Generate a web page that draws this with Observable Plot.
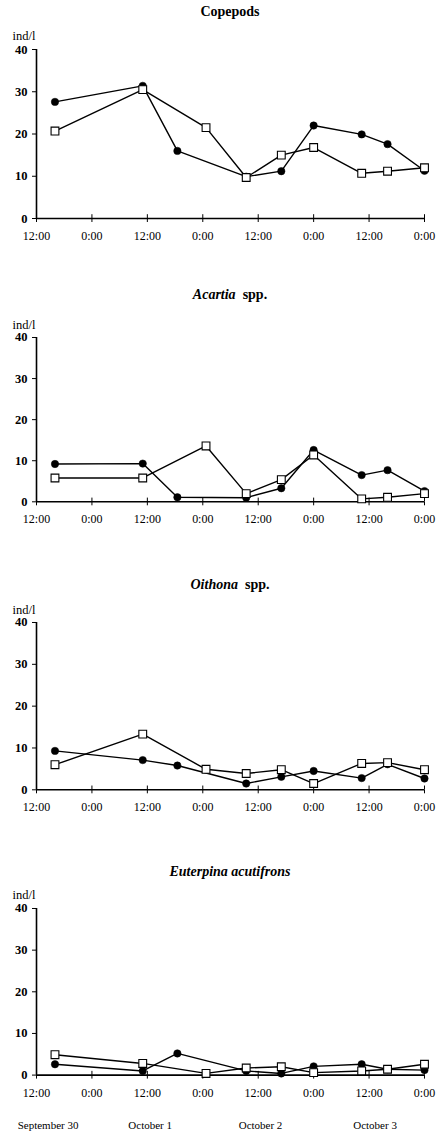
<!DOCTYPE html>
<html><head><meta charset="utf-8">
<script src="https://cdn.jsdelivr.net/npm/d3@7"></script>
<script src="https://cdn.jsdelivr.net/npm/@observablehq/plot@0.6"></script>
<style>
body{margin:0;background:#fff;}
#c{position:relative;width:437px;height:1138px;overflow:hidden;font-family:"Liberation Serif","Times New Roman",serif;color:#000;}
.t{position:absolute;left:23px;width:414px;text-align:center;font-weight:bold;font-size:14px;line-height:14px;white-space:pre;}
#c svg{position:absolute;left:0;overflow:visible;}
</style></head><body><div id="c"></div>
<script>
// sampling times, hours after September 30 12:00
const timesFilled = [4, 23, 30.5, 45.4, 53, 60, 70.4, 76, 84];
const timesOpen   = [4, 23, 36.7, 45.4, 53, 60, 70.4, 76, 84];

const copepodsFilled  = [27.6, 31.4, 16.0, 9.9, 11.2, 22.0, 19.9, 17.6, 11.3];
const copepodsOpen    = [20.7, 30.5, 21.5, 9.7, 15.0, 16.8, 10.7, 11.2, 12.0];
const acartiaFilled   = [9.2, 9.3, 1.1, 1.0, 3.3, 12.6, 6.5, 7.7, 2.6];
const acartiaOpen     = [5.8, 5.8, 13.6, 2.0, 5.4, 11.4, 0.7, 1.1, 2.0];
const oithonaFilled   = [9.3, 7.1, 5.8, 1.5, 3.1, 4.5, 2.8, 6.1, 2.7];
const oithonaOpen     = [6.0, 13.3, 4.9, 3.9, 4.8, 1.5, 6.3, 6.5, 4.8];
const euterpinaFilled = [2.6, 1.0, 5.2, 1.0, 0.4, 2.1, 2.6, 1.4, 1.2];
const euterpinaOpen   = [4.9, 2.8, 0.4, 1.7, 2.0, 0.6, 1.0, 1.4, 2.6];

const titleItalic = ["", "Acartia", "Oithona", "Euterpina acutifrons"];
const titleRoman  = ["Copepods", "  spp.", "  spp.", ""];
const unitLabel = "ind/l";

const xTickHours  = [0, 12, 24, 36, 48, 60, 72, 84];
const xTickLabels = ["12:00", "0:00", "12:00", "0:00", "12:00", "0:00", "12:00", "0:00"];
const yTicks = [0, 10, 20, 30, 40];

const dayLabels = ["September 30", "October 1", "October 2", "October 3"];
const dayLabelHours = [2.5, 24.6, 48.5, 73.3];

const series = [
  [copepodsFilled, copepodsOpen],
  [acartiaFilled, acartiaOpen],
  [oithonaFilled, oithonaOpen],
  [euterpinaFilled, euterpinaOpen]
];

// layout (page pixels)
const layout = [
  {y40: 49,    y0: 218,    title: 12,  unitDy: -18,   mb: 30},
  {y40: 336.7, y0: 501,    title: 295, unitDy: -17.5, mb: 30},
  {y40: 621.7, y0: 789,    title: 585, unitDy: -17,   mb: 30},
  {y40: 907.7, y0: 1074.3, title: 872, unitDy: -18,   mb: 64}
];

const font = '"Liberation Serif","Times New Roman",serif';
const container = document.getElementById("c");

series.forEach(([filled, open], i) => {
  const L = layout[i];
  const mt = 49;
  const height = (L.y0 - L.y40) + mt + L.mb;
  const fd = timesFilled.map((t, k) => ({t, v: filled[k]}));
  const od = timesOpen.map((t, k) => ({t, v: open[k]}));
  const marks = [
    Plot.axisY(yTicks, {label: null, tickSize: 4, tickPadding: 5, fontWeight: "bold", fontSize: 12.5, fontFamily: font, stroke: "black", fill: "black"}),
    Plot.axisX(xTickHours, {label: null, tickSize: 4, tickPadding: 9, fontSize: 12, fontFamily: font, stroke: "black", fill: "black",
      tickFormat: d => xTickLabels[xTickHours.indexOf(d)]}),
    Plot.ruleX(xTickHours, {y1: 0, y2: 0.9, stroke: "black", strokeWidth: 1}),
    Plot.ruleX([0], {y1: 0, y2: 40, stroke: "black", strokeWidth: 1.6}),
    Plot.ruleY([0], {x1: 0, x2: 84, stroke: "black", strokeWidth: 1.6}),
    Plot.line(fd, {x: "t", y: "v", stroke: "black", strokeWidth: 1.4}),
    Plot.line(od, {x: "t", y: "v", stroke: "black", strokeWidth: 1.4}),
    Plot.dot(fd, {x: "t", y: "v", r: 3.7, fill: "black", stroke: "black", strokeWidth: 0.5}),
    Plot.dot(od, {x: "t", y: "v", r: 4.4, symbol: "square", fill: "white", stroke: "black", strokeWidth: 1.1}),
    Plot.text([unitLabel], {text: d => d, frameAnchor: "top-left", dx: -24, dy: L.unitDy, textAnchor: "start", fontSize: 12.5, fontFamily: font, fill: "black"})
  ];
  if (i === 3) {
    marks.push(Plot.text(dayLabels, {x: dayLabelHours, text: d => d, frameAnchor: "bottom", dy: 54, fontSize: 11, fontFamily: font, fill: "black"}));
  }
  const chart = Plot.plot({
    width: 437, height,
    marginLeft: 36, marginRight: 13, marginTop: mt, marginBottom: L.mb,
    style: {fontFamily: font, background: "white", color: "black"},
    x: {domain: [0, 84]},
    y: {domain: [0, 40]},
    marks
  });
  chart.style.top = (L.y40 - mt) + "px";
  container.appendChild(chart);

  const t = document.createElement("div");
  t.className = "t";
  t.style.top = (L.title - 7) + "px";
  if (titleItalic[i]) {
    const it = document.createElement("i");
    it.textContent = titleItalic[i];
    t.appendChild(it);
  }
  t.appendChild(document.createTextNode(titleRoman[i]));
  container.appendChild(t);
});
</script></body></html>
